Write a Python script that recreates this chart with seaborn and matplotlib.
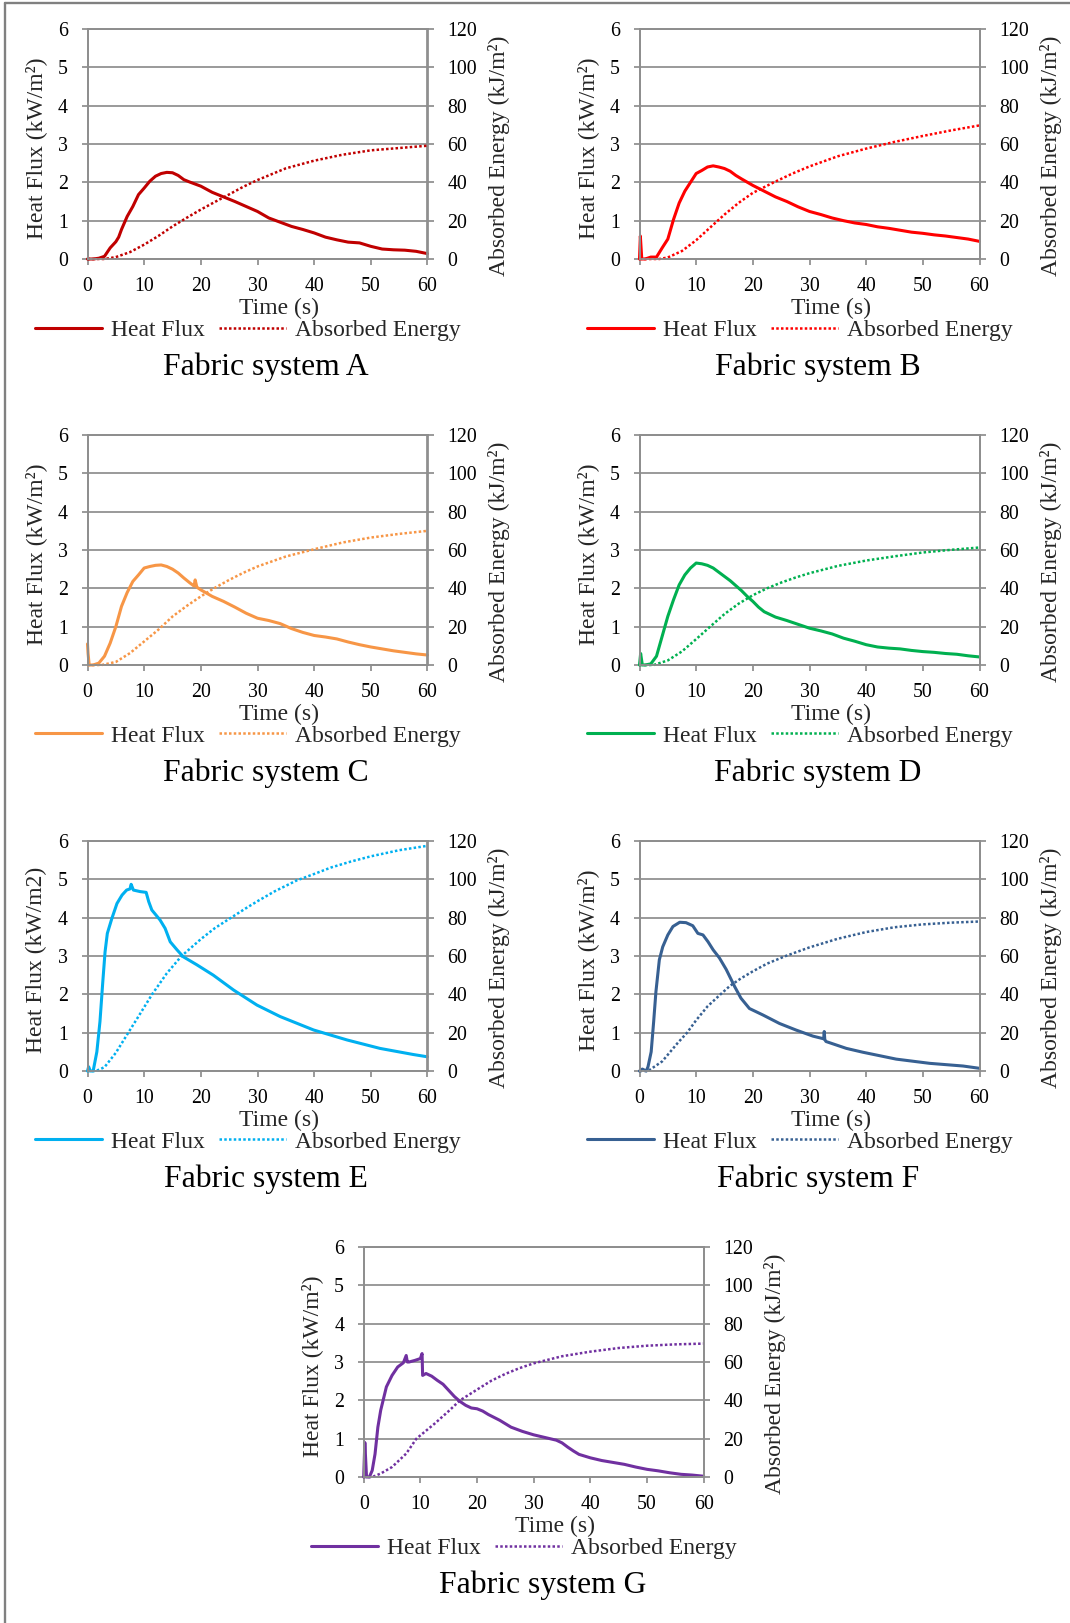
import matplotlib
matplotlib.use("Agg")
import matplotlib.pyplot as plt
from matplotlib.lines import Line2D
import seaborn as sns

# ---------------- data ----------------
A_t = [0, 1, 2, 3, 4, 5, 5.5, 6, 7, 8, 9, 10, 11, 12, 13, 14, 15, 16, 17, 18, 20, 22, 24, 26, 28, 30,
       32, 34, 36, 38, 40, 42, 44, 46, 48, 50, 52, 54, 56, 58, 60]
A_q = [0, 0, 0.02, 0.07, 0.29, 0.45, 0.57, 0.77, 1.11, 1.37, 1.68, 1.85, 2.03, 2.16, 2.23, 2.26, 2.25, 2.18,
       2.07, 2.01, 1.9, 1.74, 1.62, 1.5, 1.37, 1.24, 1.07, 0.96, 0.85, 0.77, 0.68, 0.57, 0.5, 0.44, 0.42,
       0.33, 0.26, 0.24, 0.23, 0.2, 0.14]
A_et = [0, 3, 5, 7.5, 10, 12.5, 15, 17.5, 20, 22.5, 25, 27.5, 30, 35, 40, 45, 50, 55, 60]
A_e = [0, 0, 1, 3.6, 7.5, 12, 17, 21.5, 25.8, 29.8, 33.7, 37.7, 41.2, 47.3, 51.3, 54.4, 56.7, 57.9, 59.1]

B_t = [0, 0.15, 0.4, 1, 2, 3, 4, 5, 6, 7, 8, 9, 10, 11, 12, 13, 14, 15, 16, 17, 18, 20, 22, 24, 26, 28,
       30, 32, 34, 36, 38, 40, 42, 44, 46, 48, 50, 52, 54, 56, 58, 60]
B_q = [0, 0.6, 0, 0, 0.05, 0.05, 0.29, 0.52, 1.03, 1.46, 1.77, 2.0, 2.23, 2.31, 2.4, 2.43, 2.4, 2.36, 2.29,
       2.18, 2.09, 1.92, 1.77, 1.62, 1.5, 1.36, 1.24, 1.16, 1.07, 1.0, 0.94, 0.9, 0.84, 0.8, 0.75, 0.7,
       0.67, 0.63, 0.6, 0.56, 0.52, 0.46]
B_et = [0, 3.5, 5, 7.5, 10, 12.5, 15, 17.5, 20, 23.7, 27, 30, 35, 40, 45, 50, 55, 60]
B_e = [0, 0, 0.8, 4.2, 9.8, 16.5, 23.2, 29.3, 34.5, 40, 44.6, 48.3, 53.6, 57.6, 61.1, 64.2, 67.1, 69.7]

C_t = [0, 0.1, 0.3, 1, 2, 3, 4, 5, 6, 7, 8, 9, 10, 11, 12, 13, 14, 15, 16, 17, 18, 18.8, 19, 19.3, 20,
       22, 24, 26, 28, 30, 32, 34, 36, 38, 40, 42, 44, 46, 48, 50, 52, 54, 56, 58, 60]
C_q = [0.55, 0.3, 0, 0, 0.05, 0.23, 0.57, 1.0, 1.53, 1.89, 2.18, 2.35, 2.53, 2.57, 2.6, 2.61, 2.57, 2.5,
       2.4, 2.27, 2.15, 2.06, 2.22, 2.03, 1.96, 1.79, 1.66, 1.51, 1.35, 1.22, 1.16, 1.08, 0.95, 0.85,
       0.77, 0.73, 0.68, 0.6, 0.53, 0.47, 0.42, 0.37, 0.33, 0.29, 0.26]
C_et = [0, 2.5, 5, 7.5, 10, 12.5, 15, 17.5, 20, 22.5, 25, 27.5, 30, 35, 40, 45, 50, 55, 60]
C_e = [0, 0, 1.6, 6.2, 12.3, 18.4, 25.3, 30.8, 35.8, 40.3, 44.4, 48.1, 51.4, 56.6, 60.4, 63.9, 66.5, 68.4, 70]

D_t = [0, 0.2, 0.5, 1, 2, 3, 4, 5, 6, 7, 8, 9, 10, 11, 12, 13, 14, 15, 16, 17, 18, 19, 20, 21, 22, 24,
       26, 28, 30, 32, 34, 36, 38, 40, 42, 44, 46, 48, 50, 52, 54, 56, 58, 60]
D_q = [0, 0.3, 0, 0, 0.03, 0.23, 0.75, 1.27, 1.7, 2.09, 2.35, 2.53, 2.66, 2.64, 2.6, 2.53, 2.42, 2.31,
       2.2, 2.07, 1.94, 1.79, 1.66, 1.51, 1.39, 1.25, 1.16, 1.06, 0.96, 0.89, 0.81, 0.7, 0.62, 0.53,
       0.47, 0.44, 0.42, 0.38, 0.35, 0.33, 0.3, 0.28, 0.24, 0.21]
D_et = [0, 2.5, 5, 7.5, 10, 12.5, 15, 17.5, 20, 22.5, 25, 27.5, 30, 35, 40, 45, 50, 55, 60]
D_e = [0, 0, 2.4, 7.1, 13.5, 20.1, 26.6, 32.0, 36.4, 40.0, 43.0, 45.6, 47.9, 51.7, 54.5, 56.7, 58.7, 60.1, 61.3]

E_t = [0, 0.2, 0.5, 1, 1.65, 2.2, 2.7, 3.1, 3.5, 4.3, 5.2, 6.1, 6.9, 7.5, 7.7, 8.1, 9.3, 10.35, 10.8,
       11.35, 12.8, 13.7, 14.6, 15.8, 16.9, 19.3, 22.2, 25.8, 29.9, 34, 39.9, 45.8, 51.6, 57.5, 60]
E_q = [0, 0.11, 0, 0, 0.5, 1.29, 2.33, 3.11, 3.59, 3.98, 4.37, 4.59, 4.72, 4.75, 4.87, 4.72, 4.68, 4.66,
       4.42, 4.2, 3.94, 3.72, 3.37, 3.16, 2.98, 2.77, 2.5, 2.11, 1.72, 1.42, 1.07, 0.81, 0.59, 0.43, 0.37]
E_et = [0, 1.5, 3, 5, 7.2, 9, 11.4, 14, 16.6, 20, 22.5, 25.5, 28, 30, 33, 36.9, 40, 43, 46.5, 50, 55, 60]
E_e = [0, 0, 2, 9.5, 20, 28.5, 40, 51, 60, 68.8, 74.6, 80.3, 85, 88.6, 93.7, 99.4, 102.8, 106.2, 109.3,
       112, 115.2, 117.5]

F_t = [0, 0.5, 1.2, 1.5, 2.06, 2.5, 2.9, 3.5, 4.1, 5, 5.9, 7.1, 8.2, 9.4, 10.3, 11.2, 12.1, 13, 14.1,
       15.3, 16.8, 17.9, 19.4, 21.8, 24.7, 27.6, 30.6, 32.5, 32.6, 32.7, 32.9, 36.5, 39.4, 45.3, 51.2,
       57.1, 60]
F_q = [0, 0.05, 0, 0.11, 0.5, 1.29, 2.07, 2.9, 3.24, 3.55, 3.77, 3.88, 3.87, 3.79, 3.59, 3.55, 3.37, 3.16,
       2.95, 2.65, 2.2, 1.9, 1.63, 1.46, 1.24, 1.07, 0.91, 0.84, 1.03, 0.82, 0.77, 0.59, 0.49, 0.31, 0.2,
       0.13, 0.07]
F_et = [0, 1.5, 4, 5, 6.7, 8.4, 10, 12, 14.3, 16, 18, 20, 22.5, 25.8, 30, 35, 40, 45, 50, 55, 60]
F_e = [0, 0, 5, 8.5, 14.5, 20, 26.5, 33.7, 40, 44.5, 48.5, 52, 56, 60, 64.5, 69, 72.5, 75, 76.5, 77.4, 78]

G_t = [0, 0.2, 0.5, 1, 1.5, 2, 2.5, 3, 4, 5, 6, 7, 7.5, 7.7, 8, 9, 10, 10.3, 10.4, 11, 12, 13, 14, 15,
       16, 17, 18, 19, 20, 21, 22, 24, 26, 28, 30, 32, 34, 35, 36, 37, 38, 40, 42, 44, 46, 48, 50, 52,
       54, 56, 58, 60]
G_q = [0, 0.9, 0, 0, 0.17, 0.6, 1.3, 1.74, 2.35, 2.65, 2.87, 2.98, 3.17, 3.0, 3.0, 3.04, 3.09, 3.22, 2.65,
       2.7, 2.63, 2.52, 2.42, 2.26, 2.1, 1.97, 1.87, 1.8, 1.78, 1.72, 1.63, 1.48, 1.3, 1.19, 1.1, 1.03,
       0.96, 0.89, 0.78, 0.68, 0.59, 0.5, 0.43, 0.38, 0.33, 0.26, 0.2, 0.16, 0.11, 0.07, 0.05, 0.02]
G_et = [0, 1.5, 3, 5, 7.5, 9.3, 12.5, 15, 17, 20, 22.5, 25, 27.5, 30, 35, 40, 45, 50, 55, 60]
G_e = [0, 0, 1.8, 5.2, 12.2, 20, 27.8, 34.4, 40, 45.6, 50.2, 53.8, 56.8, 59.3, 63, 65.4, 67.3, 68.5, 69.2, 69.6]

systems = ["A", "B", "C", "D", "E", "F", "G"]
flux_t = [A_t, B_t, C_t, D_t, E_t, F_t, G_t]
flux_q = [A_q, B_q, C_q, D_q, E_q, F_q, G_q]
energy_t = [A_et, B_et, C_et, D_et, E_et, F_et, G_et]
energy_e = [A_e, B_e, C_e, D_e, E_e, F_e, G_e]
colors = ["#C00000", "#FF0000", "#F79646", "#00B050", "#00B0F0", "#376092", "#7030A0"]
flux_labels = ["Heat Flux (kW/m²)"] * 4 + ["Heat Flux (kW/m2)"] + ["Heat Flux (kW/m²)"] * 2
energy_label = "Absorbed Energy (kJ/m²)"
x_ticks = [0, 10, 20, 30, 40, 50, 60]
flux_ticks = [0, 1, 2, 3, 4, 5, 6]
energy_ticks = [0, 20, 40, 60, 80, 100, 120]

# ---------------- layout ----------------
W, H = 1070, 1623
sns.set_theme(style="white")
plt.rcParams["font.family"] = ["Liberation Serif", "DejaVu Serif"]
plt.rcParams["axes.unicode_minus"] = False

fig = plt.figure(figsize=(W / 100, H / 100), dpi=100)
fig.patch.set_facecolor("white")

# panel plot-area origins (left, top) in pixels
origins = [(87.5, 29), (639.5, 29), (87.5, 435), (639.5, 435),
           (87.5, 841), (639.5, 841), (363.7, 1247)]
PW, PH = 340, 230
GRID = "#8E8E8E"
TICK_FS = 14.3
LAB_FS = 17
TITLE_FS = 22.8

for i, name in enumerate(systems):
    left, top = origins[i]
    ax = fig.add_axes([left / W, 1 - (top + PH) / H, PW / W, PH / H])
    ax2 = ax.twinx()
    c = colors[i]

    sns.lineplot(x=flux_t[i], y=flux_q[i], ax=ax, color=c, linewidth=2.2,
                 estimator=None, legend=False, clip_on=False)
    sns.lineplot(x=energy_t[i], y=energy_e[i], ax=ax2, color=c, linewidth=1.8,
                 linestyle=(0, (1, 0.9)), estimator=None, legend=False, clip_on=False)

    ax.set_xlim(0, 60)
    ax.set_ylim(0, 6)
    ax2.set_ylim(0, 120)
    ax.set_xticks(x_ticks)
    ax.set_yticks(flux_ticks)
    ax2.set_yticks(energy_ticks)
    ax.set_xticklabels([str(v) for v in x_ticks])
    ax.set_yticklabels([str(v) for v in flux_ticks])
    ax2.set_yticklabels([str(v) for v in energy_ticks])

    ax.grid(False)
    ax2.grid(False)
    ax.yaxis.grid(True, color=GRID, linewidth=1.25)
    ax.set_axisbelow(True)
    for a in (ax, ax2):
        for s in a.spines.values():
            s.set_visible(True)
            s.set_color(GRID)
            s.set_linewidth(1.25)
        a.set_facecolor("none")

    ax.tick_params(axis="y", which="both", left=True, right=False, direction="out",
                   length=4.3, width=1.25, color=GRID, labelsize=TICK_FS, pad=9.8,
                   labelcolor="black")
    ax.tick_params(axis="x", which="both", bottom=True, direction="out", length=4.3,
                   width=1.25, color=GRID, labelsize=TICK_FS, pad=8.5, labelcolor="black")
    ax2.tick_params(axis="y", which="both", right=True, left=False, direction="out",
                    length=4.3, width=1.25, color=GRID, labelsize=TICK_FS, pad=10,
                    labelcolor="black")

    ax.set_xlabel("Time (s)", fontsize=LAB_FS, va="center", ha="center")
    ax.xaxis.set_label_coords(191.5 / PW, -49 / PH)
    ax.set_ylabel(flux_labels[i], fontsize=LAB_FS, rotation=90, va="center", ha="center")
    ax.yaxis.set_label_coords(-51.5 / PW, 111 / PH)
    ax2.set_ylabel(energy_label, fontsize=LAB_FS, rotation=90, va="center", ha="center")
    ax2.yaxis.set_label_coords(1 + 71.5 / PW, 103 / PH)

    h1 = ax.lines[-1]
    h2 = ax2.lines[-1]
    ax2.legend([h1, h2], ["Heat Flux", "Absorbed Energy"], loc="center",
               bbox_to_anchor=(160.5 / PW, -71 / PH), ncol=2, frameon=False,
               fontsize=LAB_FS, handlelength=2.84, handletextpad=0.38,
               columnspacing=0.59, borderpad=0, borderaxespad=0)

    ax.text(178.5 / PW, -108 / PH, f"Fabric system {name}", transform=ax.transAxes,
            ha="center", va="center", fontsize=TITLE_FS, color="black")

# outer frame (left and top edges only, as in the reference)
fig.add_artist(Line2D([4.5 / W, 4.5 / W], [0, 1 - 3 / H], transform=fig.transFigure,
                      color="#808080", linewidth=1.7))
fig.add_artist(Line2D([4.5 / W, 1], [1 - 3 / H, 1 - 3 / H], transform=fig.transFigure,
                      color="#808080", linewidth=1.7))

fig.savefig("out.png", dpi=100, facecolor="white")
